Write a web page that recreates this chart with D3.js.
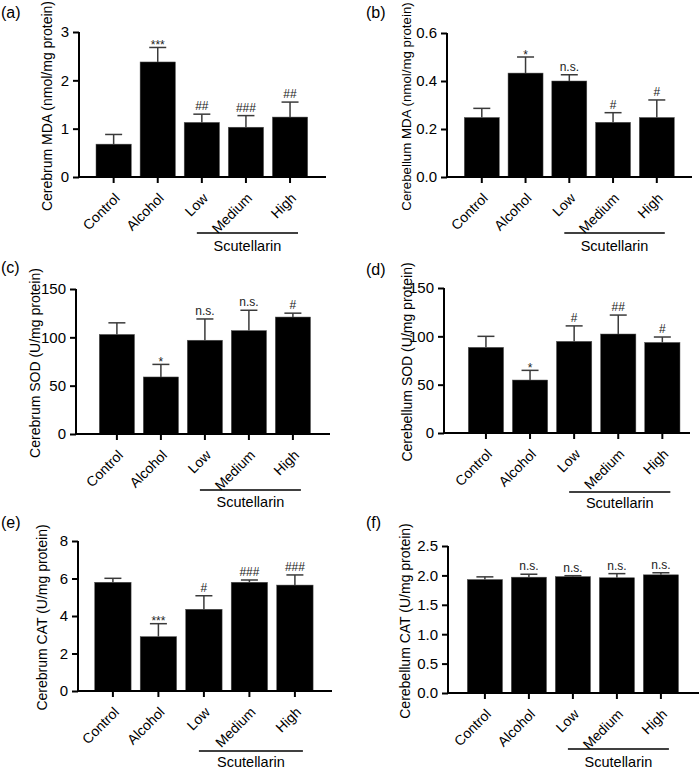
<!DOCTYPE html>
<html>
<head>
<meta charset="utf-8">
<script src="https://cdn.jsdelivr.net/npm/d3@7"></script>
<style>
  html, body { margin: 0; padding: 0; background: #fff; }
  svg { display: block; font-family: Arial, "Liberation Sans", sans-serif; }
</style>
</head>
<body>
<svg id="chart" width="700" height="769"></svg>
<script>
// ---------- DATA ----------
const categories = ["Control", "Alcohol", "Low", "Medium", "High"];
const groupLabel = "Scutellarin";
const groupMembers = ["Low", "High"];

const panelLetters = ["(a)", "(b)", "(c)", "(d)", "(e)", "(f)"];
const yTitles = [
  "Cerebrum MDA (nmol/mg protein)",
  "Cerebellum MDA (nmol/mg protein)",
  "Cerebrum SOD (U/mg protein)",
  "Cerebellum SOD (U/mg protein)",
  "Cerebrum CAT (U/mg protein)",
  "Cerebellum CAT (U/mg protein)"
];

const cerebrumMDA      = [0.68, 2.38, 1.13, 1.03, 1.24];
const cerebrumMDAErr   = [0.20, 0.30, 0.17, 0.24, 0.31];
const cerebrumMDASig   = ["", "***", "##", "###", "##"];
const cerebrumMDATicks = [0, 1, 2, 3];

const cerebellumMDA      = [0.248, 0.433, 0.400, 0.228, 0.248];
const cerebellumMDAErr   = [0.038, 0.067, 0.026, 0.040, 0.073];
const cerebellumMDASig   = ["", "*", "n.s.", "#", "#"];
const cerebellumMDATicks = [0, 0.2, 0.4, 0.6];

const cerebrumSOD      = [103, 59, 97, 107, 121];
const cerebrumSODErr   = [12, 13, 22, 21, 4];
const cerebrumSODSig   = ["", "*", "n.s.", "n.s.", "#"];
const cerebrumSODTicks = [0, 50, 100, 150];

const cerebellumSOD      = [88.6, 54.8, 94.8, 102.4, 93.7];
const cerebellumSODErr   = [11.4, 10.0, 16.0, 19.6, 5.6];
const cerebellumSODSig   = ["", "*", "#", "##", "#"];
const cerebellumSODTicks = [0, 50, 100, 150];

const cerebrumCAT      = [5.80, 2.90, 4.36, 5.80, 5.65];
const cerebrumCATErr   = [0.21, 0.69, 0.72, 0.12, 0.54];
const cerebrumCATSig   = ["", "***", "#", "###", "###"];
const cerebrumCATTicks = [0, 2, 4, 6, 8];

const cerebellumCAT      = [1.93, 1.97, 1.98, 1.96, 2.01];
const cerebellumCATErr   = [0.045, 0.050, 0.015, 0.070, 0.035];
const cerebellumCATSig   = ["", "n.s.", "n.s.", "n.s.", "n.s."];
const cerebellumCATTicks = [0, 0.5, 1.0, 1.5, 2.0, 2.5];

// ---------- LAYOUT ----------
const panels = [
  { letter: panelLetters[0], title: yTitles[0], values: cerebrumMDA, errs: cerebrumMDAErr, sig: cerebrumMDASig, ticks: cerebrumMDATicks, fmt: d3.format("d"),
    axisX: 79, y0: 177, yTop: 32, axisEnd: 326, firstBar: 96, step: 44.1, titleX: 47, titleSize: 14, titleShift: 1.5, letterX: 1, letterY: 18, groupY: 233, groupTextY: 251 },
  { letter: panelLetters[1], title: yTitles[1], values: cerebellumMDA, errs: cerebellumMDAErr, sig: cerebellumMDASig, ticks: cerebellumMDATicks, fmt: d3.format(".1f"),
    axisX: 447, y0: 177, yTop: 33, axisEnd: 692, firstBar: 464.3, step: 43.75, titleX: 406, titleSize: 13.3, titleShift: 1.5, letterX: 366, letterY: 18, groupY: 233, groupTextY: 251 },
  { letter: panelLetters[2], title: yTitles[2], values: cerebrumSOD, errs: cerebrumSODErr, sig: cerebrumSODSig, ticks: cerebrumSODTicks, fmt: d3.format("d"),
    axisX: 76, y0: 434, yTop: 289, axisEnd: 330, firstBar: 99.3, step: 44, titleX: 35, titleSize: 14, titleShift: 1.5, letterX: 1, letterY: 273, groupY: 490, groupTextY: 507 },
  { letter: panelLetters[3], title: yTitles[3], values: cerebellumSOD, errs: cerebellumSODErr, sig: cerebellumSODSig, ticks: cerebellumSODTicks, fmt: d3.format("d"),
    axisX: 444, y0: 433, yTop: 288, axisEnd: 690, firstBar: 468.3, step: 44.1, titleX: 407, titleSize: 14, titleShift: 1.5, letterX: 366, letterY: 275, groupY: 492, groupTextY: 508 },
  { letter: panelLetters[4], title: yTitles[4], values: cerebrumCAT, errs: cerebrumCATErr, sig: cerebrumCATSig, ticks: cerebrumCATTicks, fmt: d3.format("d"),
    axisX: 78, y0: 691, yTop: 541, axisEnd: 332, firstBar: 94.7, step: 45.5, titleX: 42, titleSize: 14, titleShift: 1.5, letterX: 1, letterY: 528, groupY: 751, groupTextY: 767 },
  { letter: panelLetters[5], title: yTitles[5], values: cerebellumCAT, errs: cerebellumCATErr, sig: cerebellumCATSig, ticks: cerebellumCATTicks, fmt: d3.format(".1f"),
    axisX: 448, y0: 693, yTop: 546, axisEnd: 699, firstBar: 467.3, step: 44, titleX: 405, titleSize: 14, titleShift: 1.5, letterX: 366, letterY: 528, groupY: 749, groupTextY: 767 }
];

const FONT = "Arial, 'Liberation Sans', sans-serif";
const svg = d3.select("#chart");

panels.forEach(p => {
  const g = svg.append("g");
  const L = p.firstBar - 0.1 * p.step;
  const x = d3.scaleBand().domain(categories).range([L, L + 5 * p.step]).paddingInner(0.2).paddingOuter(0.1);
  const yMax = p.ticks[p.ticks.length - 1];
  const y = d3.scaleLinear().domain([0, yMax]).range([p.y0, p.yTop]);
  const bw = x.bandwidth();
  const rows = categories.map((c, i) => ({ c, v: p.values[i], e: p.errs[i], s: p.sig[i] }));

  // error bars (upper only), drawn under bars
  const eb = g.append("g").attr("stroke", "#3a3a3a").attr("stroke-width", 1.5).attr("fill", "none");
  rows.forEach(r => {
    const cx = x(r.c) + bw / 2;
    eb.append("line").attr("x1", cx).attr("x2", cx).attr("y1", y(r.v)).attr("y2", y(r.v + r.e));
    eb.append("line").attr("x1", cx - 8.5).attr("x2", cx + 8.5).attr("y1", y(r.v + r.e)).attr("y2", y(r.v + r.e));
  });

  // bars
  g.append("g").selectAll("rect").data(rows).join("rect")
    .attr("x", d => x(d.c)).attr("width", bw)
    .attr("y", d => y(d.v)).attr("height", d => p.y0 - y(d.v))
    .attr("fill", "#000").attr("stroke", "#555").attr("stroke-width", 0.5);

  // significance marks
  g.append("g").selectAll("text").data(rows.filter(r => r.s)).join("text")
    .attr("x", d => x(d.c) + bw / 2)
    .attr("y", d => y(d.v + d.e) + (d.s.startsWith("*") ? 1.5 : -4))
    .attr("text-anchor", "middle")
    .attr("font-size", 12)
    .attr("fill", "#222")
    .text(d => d.s);

  // y axis
  const yAxis = g.append("g").attr("transform", `translate(${p.axisX},0)`)
    .call(d3.axisLeft(y).tickValues(p.ticks).tickFormat(p.fmt).tickSize(6).tickPadding(4).tickSizeOuter(0));
  yAxis.select(".domain").attr("stroke", "#000").attr("stroke-width", 2)
    .attr("d", `M0,${p.y0 + 1}V${p.yTop}`);
  yAxis.selectAll(".tick line").attr("stroke", "#000").attr("stroke-width", 2);
  yAxis.selectAll(".tick text").attr("font-size", 15).attr("fill", "#000").attr("font-family", FONT);

  // x axis
  const xAxis = g.append("g").attr("transform", `translate(0,${p.y0})`)
    .call(d3.axisBottom(x).tickSize(6).tickSizeOuter(0));
  xAxis.select(".domain").attr("stroke", "#000").attr("stroke-width", 2)
    .attr("d", `M${p.axisX - 1},0H${p.axisEnd}`);
  xAxis.selectAll(".tick line").attr("stroke", "#000").attr("stroke-width", 2);
  xAxis.selectAll(".tick text")
    .attr("font-size", 14).attr("fill", "#000").attr("font-family", FONT)
    .attr("text-anchor", "end")
    .attr("y", 0).attr("dy", 0)
    .attr("transform", "translate(7,22) rotate(-45)");

  // y title
  g.append("text")
    .attr("transform", `translate(${p.titleX},${(p.y0 + p.yTop) / 2 + p.titleShift}) rotate(-90)`)
    .attr("text-anchor", "middle").attr("dy", "0.35em")
    .attr("font-size", p.titleSize).attr("fill", "#000")
    .text(p.title);

  // panel letter
  g.append("text").attr("x", p.letterX).attr("y", p.letterY)
    .attr("font-size", 16).attr("fill", "#000").text(p.letter);

  // group bracket line
  const gx1 = x(groupMembers[0]) + bw / 2 - 5;
  const gx2 = x(groupMembers[1]) + bw / 2 + 8;
  g.append("line").attr("x1", gx1).attr("x2", gx2).attr("y1", p.groupY).attr("y2", p.groupY)
    .attr("stroke", "#000").attr("stroke-width", 1.5);
  g.append("text").attr("x", (gx1 + gx2) / 2).attr("y", p.groupTextY)
    .attr("text-anchor", "middle").attr("font-size", 14.5).attr("fill", "#000")
    .text(groupLabel);
});
</script>
</body>
</html>
